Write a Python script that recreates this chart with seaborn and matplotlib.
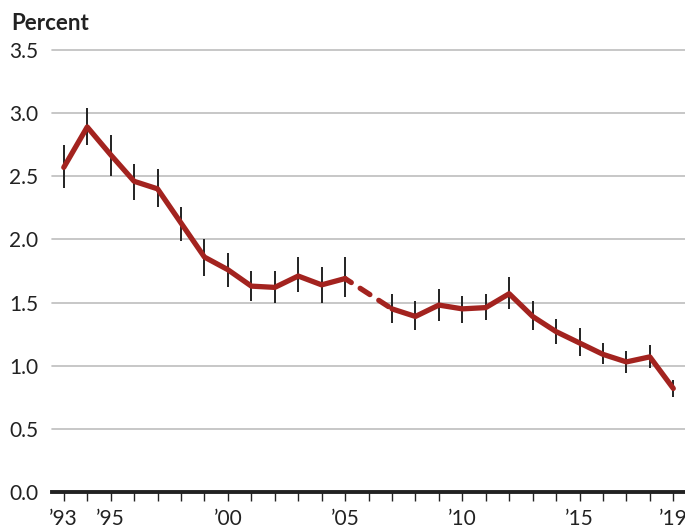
import matplotlib
matplotlib.use("Agg")
import matplotlib.pyplot as plt
import pandas as pd
import seaborn as sns

years = [1993, 1994, 1995, 1996, 1997, 1998, 1999, 2000, 2001, 2002, 2003, 2004, 2005,
         2007, 2008, 2009, 2010, 2011, 2012, 2013, 2014, 2015, 2016, 2017, 2018, 2019]
pct = [2.57, 2.89, 2.67, 2.46, 2.40, 2.13, 1.86, 1.76, 1.63, 1.62, 1.71, 1.64, 1.69,
       1.45, 1.39, 1.48, 1.45, 1.46, 1.57, 1.39, 1.27, 1.18, 1.09, 1.03, 1.07, 0.82]
lower = [2.41, 2.75, 2.50, 2.31, 2.26, 1.99, 1.71, 1.62, 1.51, 1.50, 1.58, 1.50, 1.54,
         1.34, 1.28, 1.35, 1.34, 1.36, 1.45, 1.28, 1.17, 1.08, 1.01, 0.94, 0.98, 0.75]
upper = [2.75, 3.04, 2.83, 2.60, 2.56, 2.26, 2.00, 1.89, 1.75, 1.75, 1.86, 1.78, 1.86,
         1.57, 1.51, 1.61, 1.55, 1.57, 1.70, 1.51, 1.37, 1.30, 1.18, 1.12, 1.16, 0.89]
tick_years = [1993, 1995, 2000, 2005, 2010, 2015, 2019]
tick_labels = ["\u201993", "\u201995", "\u201900", "\u201905", "\u201910", "\u201915", "\u201919"]

df = pd.DataFrame({"year": years, "pct": pct, "lo": lower, "hi": upper})
red = "#a3231f"

sns.set_style("white")
plt.rcParams["font.family"] = ["Lato", "DejaVu Sans"]

fig = plt.figure(figsize=(6.85, 5.31), dpi=100)
ax = fig.add_axes([0.076, 0.0734, 0.924, 0.8326])

# grid
for v in [0.5, 1.0, 1.5, 2.0, 2.5, 3.0, 3.5]:
    ax.axhline(v, color="#bdbdbd", lw=1.2, zorder=0, clip_on=False)

ax.vlines(df["year"], df["lo"], df["hi"], color="#222222", lw=1.4, zorder=2, clip_on=False)

seg1 = df[df["year"] <= 2005]
seg2 = df[df["year"] >= 2007]
gap = df[(df["year"] >= 2005) & (df["year"] <= 2007)]
sns.lineplot(data=seg1, x="year", y="pct", color=red, lw=3.8, ax=ax, zorder=3,
             solid_capstyle="round", clip_on=False)
sns.lineplot(data=seg2, x="year", y="pct", color=red, lw=3.8, ax=ax, zorder=3,
             solid_capstyle="round", clip_on=False)
sns.lineplot(data=gap, x="year", y="pct", color=red, lw=3.8, ax=ax, zorder=3,
             dashes=False, clip_on=False)
ax.lines[-1].set_linestyle((0.8, (2.2, 2.0)))
ax.lines[-1].set_dash_capstyle("round")

ax.set_xlim(1992.5, 2019.5)
ax.set_ylim(0, 3.5)
ax.set_yticks([0, 0.5, 1.0, 1.5, 2.0, 2.5, 3.0, 3.5])
ax.set_yticklabels(["0.0", "0.5", "1.0", "1.5", "2.0", "2.5", "3.0", "3.5"], fontsize=15, color="#222222")
ax.set_xticks(list(range(1993, 2020)), minor=True)
ax.set_xticks(tick_years)
ax.set_xticklabels(tick_labels, fontsize=15, color="#222222")
ax.tick_params(axis="x", which="both", bottom=True, length=6.5, width=1, color="#222222",
               pad=6, direction="out")
ax.tick_params(axis="y", length=0, pad=10)
ax.set_xlabel("")
ax.set_ylabel("")

for s in ["top", "right", "left"]:
    ax.spines[s].set_visible(False)
ax.spines["bottom"].set_linewidth(2.8)
ax.spines["bottom"].set_color("#222222")
ax.spines["bottom"].set_zorder(4)

fig.text(0.016, 0.956, "Percent", fontsize=16, fontweight="bold", color="#222222", va="center")

fig.savefig("out.png", dpi=100)
